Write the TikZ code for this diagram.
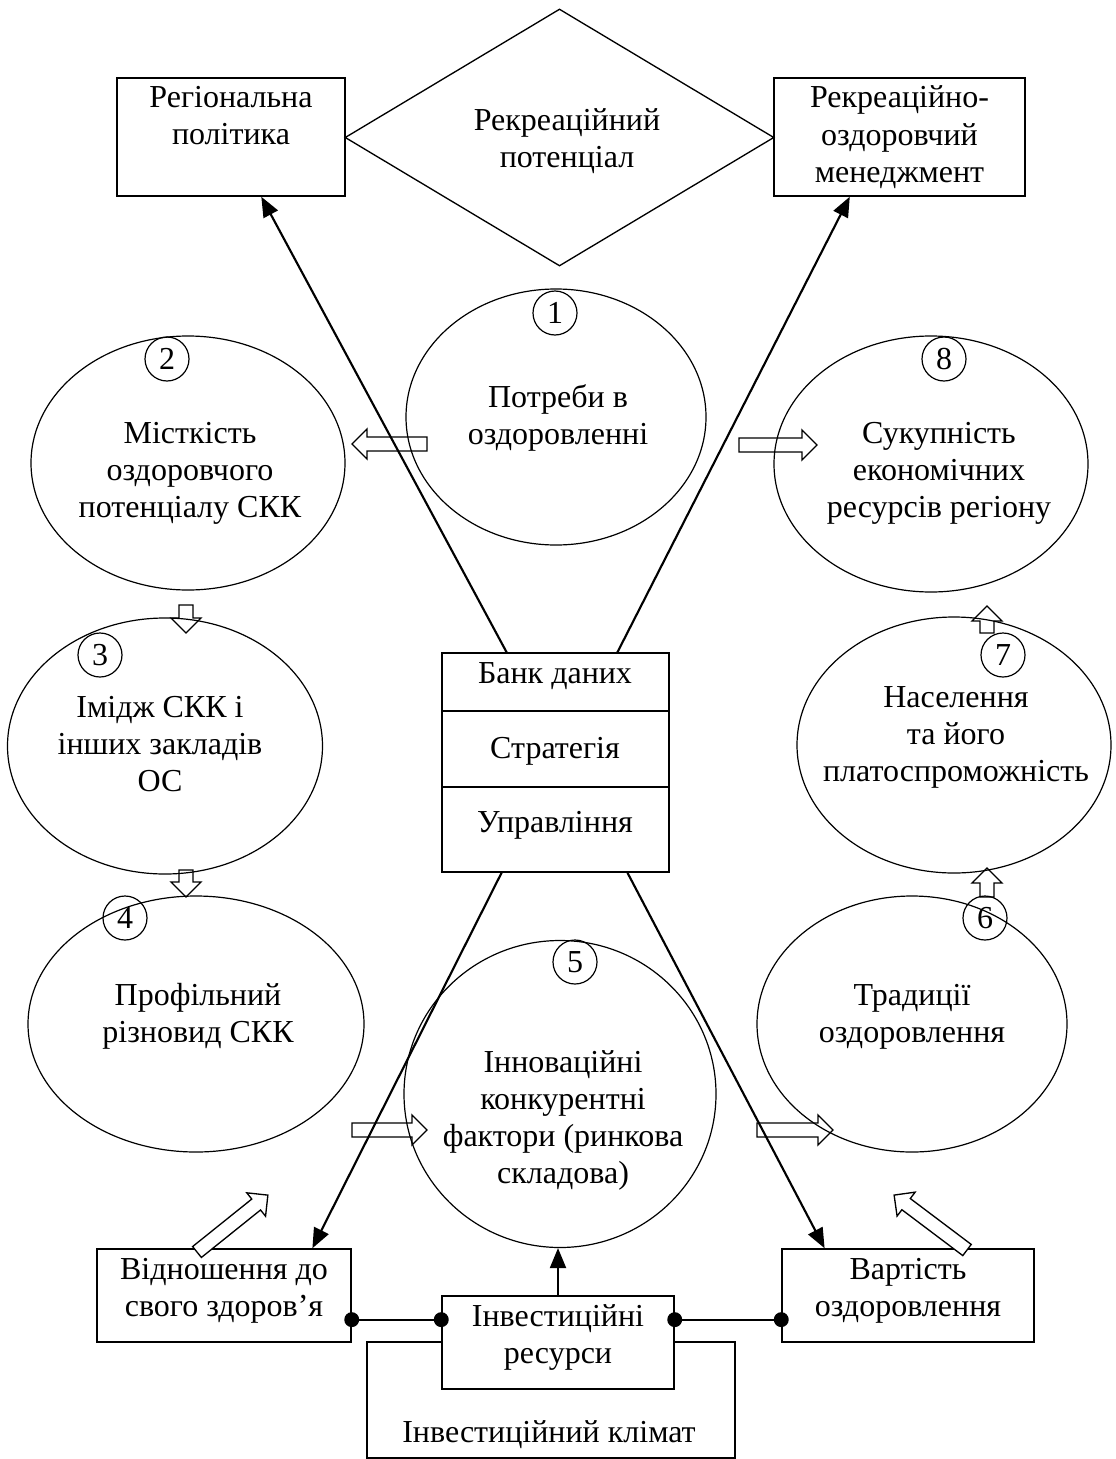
\documentclass[tikz,border=0pt]{standalone}
\usepackage{fontspec}
\setmainfont{Liberation Serif}
\usetikzlibrary{shapes.geometric,calc,arrows.meta}

\newcommand\fs{\fontsize{24pt}{27.75pt}\selectfont}

% wide white arrow from #1 to #2
\newcommand\hollow[2]{%
  \draw[line width=1pt, fill=white, line join=miter]
    let \p1=(#1), \p2=(#2),
        \n1={atan2(\y2-\y1,\x2-\x1)},
        \n2={veclen(\x2-\x1,\y2-\y1)} in
    [shift={(\p1)}, rotate=\n1]
    (0pt,-5.25pt) -- ({\n2-11.25pt},-5.25pt) -- ({\n2-11.25pt},-11.25pt)
    -- ({\n2+0pt},0pt) -- ({\n2-11.25pt},11.25pt) -- ({\n2-11.25pt},5.25pt)
    -- (0pt,5.25pt) -- cycle;}

\tikzset{
  sz/.style 2 args={minimum width=#1*0.75pt, minimum height=#2*0.75pt},
  box/.style={draw, line width=1.1pt, rectangle, inner sep=0pt, fill=white},
  oval/.style={draw, line width=0.9pt, ellipse, inner sep=0pt},
  num/.style={draw, line width=0.9pt, circle, inner sep=0pt, minimum size=33pt, font=\fs},
  % anchored at the baseline of the last line
  lbl/.style={align=center, inner sep=0pt, anchor=base, font=\fs},
  link/.style={line width=1.6pt, -{Triangle[length=15pt,width=12pt]}},
  tie/.style={line width=1.5pt},
}

\begin{document}
\begin{tikzpicture}[x=0.75pt, y=-0.75pt]
\useasboundingbox (0,0) rectangle (1115,1459);

% top row
\node[box, sz={228}{118}] (regpol) at (231,137) {};
\node[box, sz={251}{118}] (men) at (899.5,137) {};
\node[draw, diamond, line width=1pt, inner sep=0pt,
      minimum width=429*0.75pt, minimum height=257*0.75pt] (pot) at (559.5,137.5) {};

% central block
\node[box, sz={227}{58}] (bank1) at (555.5,682) {};
\node[box, sz={227}{76}] (bank2) at (555.5,749) {};
\node[box, sz={227}{85}] (bank3) at (555.5,829.5) {};

% bottom row
\node[box, sz={254}{93}] (vid) at (224,1295.5) {};
\node[box, sz={252}{93}] (vart) at (908,1295.5) {};
\node[box, sz={368}{116}] (klim) at (551,1400) {};
\node[box, sz={232}{93}] (inv) at (558,1342.5) {};

% white arrows
\coordinate (a1s) at (427,444);  \coordinate (a1e) at (352,444);
\coordinate (a2s) at (739,445);  \coordinate (a2e) at (817,445);
\coordinate (a3s) at (186,605);  \coordinate (a3e) at (186,633);
\coordinate (a4s) at (186,870);  \coordinate (a4e) at (186,897);
\coordinate (a5s) at (987,633);  \coordinate (a5e) at (987,606);
\coordinate (a6s) at (987,897);  \coordinate (a6e) at (987,868);
\coordinate (a7s) at (352,1130); \coordinate (a7e) at (427,1130);
\coordinate (a8s) at (757,1130); \coordinate (a8e) at (833,1130);
\coordinate (a9s) at (197,1252); \coordinate (a9e) at (268,1195);
\coordinate (a10s) at (967,1250); \coordinate (a10e) at (894,1195);
\hollow{a1s}{a1e}
\hollow{a2s}{a2e}
\hollow{a3s}{a3e}
\hollow{a4s}{a4e}
\hollow{a5s}{a5e}
\hollow{a6s}{a6e}
\hollow{a7s}{a7e}
\hollow{a8s}{a8e}
\hollow{a9s}{a9e}
\hollow{a10s}{a10e}

% factor ovals
\node[oval, sz={300}{256}] (e1) at (556,417) {};
\node[oval, sz={314}{254}] (e2) at (188,463) {};
\node[oval, sz={315}{256}] (e3) at (165,746) {};
\node[oval, sz={336}{256}] (e4) at (196,1024) {};
\node[oval, sz={312}{307}] (e5) at (560,1094) {};
\node[oval, sz={310}{256}] (e6) at (912,1024) {};
\node[oval, sz={314}{256}] (e7) at (954,745) {};
\node[oval, sz={314}{256}] (e8) at (931,464) {};

% connectors
\draw[link] ($(bank1.north west)!0.286!(bank1.north east)$) -- ($(regpol.south west)!0.632!(regpol.south east)$);
\draw[link] ($(bank1.north west)!0.771!(bank1.north east)$) -- ($(men.south west)!0.303!(men.south east)$);
\draw[link] ($(bank3.south west)!0.264!(bank3.south east)$) -- ($(vid.north west)!0.846!(vid.north east)$);
\draw[link] ($(bank3.south west)!0.815!(bank3.south east)$) -- ($(vart.north west)!0.171!(vart.north east)$);
\draw[link] (inv.north) -- (inv.north |- e5.south);

\coordinate (jl) at ($(inv.north west)!0.258!(inv.south west)$);
\coordinate (jr) at ($(inv.north east)!0.258!(inv.south east)$);
\draw[tie] (vid.east |- jl) -- (jl);
\draw[tie] (jr) -- (vart.west |- jr);
\fill (vid.east |- jl) circle[radius=5.6pt];
\fill (jl) circle[radius=5.6pt];
\fill (jr) circle[radius=5.6pt];
\fill (vart.west |- jr) circle[radius=5.6pt];

% numbers
\node[num] (n1) at (555,313) {1};
\node[num] (n2) at (167,359) {2};
\node[num] (n3) at (100,655) {3};
\node[num] (n4) at (125,918) {4};
\node[num] (n5) at (575,962) {5};
\node[num] (n6) at (985,918) {6};
\node[num] (n7) at (1003,655) {7};
\node[num] (n8) at (944,359) {8};

% texts
\node[lbl] (tregpol) at (231,145) {Регіональна\\політика};
\node[lbl] (tmen) at (899.5,182) {Рекреаційно-\\оздоровчий\\менеджмент};
\node[lbl] (tpot) at (567,167) {Рекреаційний\\потенціал};
\node[lbl] (tb1) at (555,683) {Банк даних};
\node[lbl] (tb2) at (555,758) {Стратегія};
\node[lbl] (tb3) at (555,832) {Управління};
\node[lbl] (te1) at (558,444) {Потреби в\\оздоровленні};
\node[lbl] (te2) at (190,517) {Місткість\\оздоровчого\\потенціалу СКК};
\node[lbl] (te3) at (160,791) {Імідж СКК і\\інших закладів\\ОС};
\node[lbl] (te4) at (198,1042) {Профільний\\різновид СКК};
\node[lbl] (te5) at (563,1183) {Інноваційні\\конкурентні\\фактори (ринкова\\складова)};
\node[lbl] (te6) at (912,1042) {Традиції\\оздоровлення};
\node[lbl] (te7) at (956,781) {Населення\\та його\\платоспроможність};
\node[lbl] (te8) at (939,517) {Сукупність\\економічних\\ресурсів регіону};
\node[lbl] (tvid) at (224,1316) {Відношення до\\свого здоров’я};
\node[lbl] (tvart) at (908,1316) {Вартість\\оздоровлення};
\node[lbl] (tinv) at (558,1363) {Інвестиційні\\ресурси};
\node[lbl] (tklim) at (549,1442) {Інвестиційний клімат};
\end{tikzpicture}
\end{document}
